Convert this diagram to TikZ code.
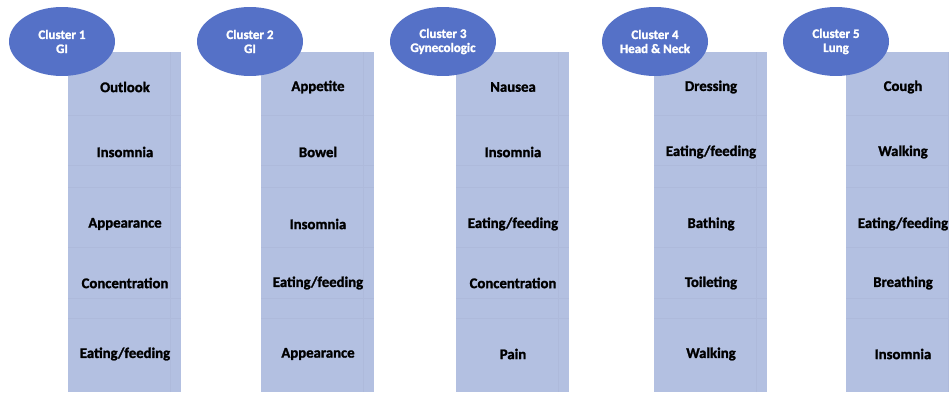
\documentclass[tikz,border=0pt]{standalone}
\usepackage{fontspec}
\setmainfont{Carlito}[BoldFont={Carlito Bold},BoldFeatures={FakeBold=1.5}]
\usetikzlibrary{shapes.geometric}
\definecolor{cellfill}{HTML}{B3C0E1}
\definecolor{ovalfill}{HTML}{5571C7}
\definecolor{seam}{HTML}{AEBADB}
\begin{document}
\begin{tikzpicture}[x=0.02cm,y=-0.02cm,
  colbox/.style={fill=cellfill},
  seamline/.style={draw=seam, line width=0.35pt},
  oval/.style={ellipse, fill=ovalfill, draw=none, minimum width=2.12cm, minimum height=1.38cm, inner sep=0pt,
    text=white, font=\fontsize{7.4}{8}\selectfont\bfseries, align=center},
  item/.style={font=\fontsize{8.4}{9}\selectfont\bfseries, text=black, inner sep=1pt}]
\useasboundingbox (0,0) rectangle (949,393);
\clip (0,0) rectangle (949,393);
\foreach \n/\L/\ox/\ta/\tb/\A/\B/\C/\D/\E in {
  1/68/62/Cluster 1/GI/Outlook/Insomnia/Appearance/Concentration/Eating\slash feeding,
  2/261/250/Cluster 2/GI/Appetite/Bowel/Insomnia/Eating\slash feeding/Appearance,
  3/456/443/Cluster 3/Gynecologic/Nausea/Insomnia/Eating\slash feeding/Concentration/Pain,
  4/654/655/Cluster 4/Head \& Neck/Dressing/Eating\slash feeding/Bathing/Toileting/Walking,
  5/846/836/Cluster 5/Lung/Cough/Walking/Eating\slash feeding/Breathing/Insomnia}{
  \path[colbox] (\L,52) rectangle ++(113,340);
  \foreach \yy in {115,165,187,247,298,318}
    \draw[seamline] (\L,\yy) -- ++(113,0);
  \draw[seamline] (\L+102,52) -- ++(0,340);
  \node[oval] (c\n) at (\ox,41.5) {\ta\\\tb};
  \node[item] (c\n a) at (\L+57,87) {\A};
  \node[item] (c\n b) at (\L+57,152) {\B};
  \node[item] (c\n c) at (\L+57,224) {\C};
  \node[item] (c\n d) at (\L+57,283) {\D};
  \node[item] (c\n e) at (\L+57,354) {\E};
}
\end{tikzpicture}
\end{document}
